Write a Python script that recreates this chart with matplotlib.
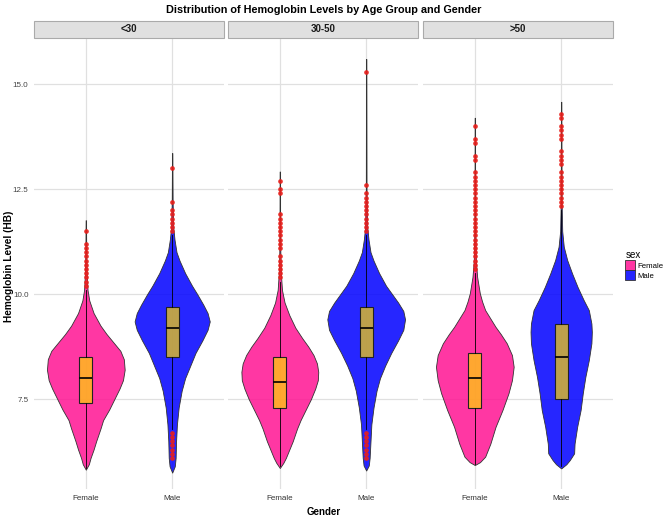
import matplotlib.pyplot as plt
from matplotlib.patches import Rectangle, Patch
from matplotlib.colors import to_rgba

plt.rcParams['font.family'] = ['Liberation Sans', 'DejaVu Sans']

age_groups = ['<30', '30-50', '>50']
sexes = ['Female', 'Male']
violin_colors = ['deeppink', 'blue']

# violin outlines: HB level and half width (x units)
f1_y = [5.82, 5.95, 6.1, 6.3, 6.5, 6.8, 7.0, 7.25, 7.5, 7.75, 7.95, 8.2, 8.45, 8.65,
        8.85, 9.05, 9.25, 9.55, 9.85, 10.1, 10.5, 11.0, 11.76]
f1_w = [0, 0.035, 0.055, 0.09, 0.12, 0.17, 0.2, 0.27, 0.33, 0.39, 0.43, 0.45, 0.44, 0.40,
        0.32, 0.24, 0.17, 0.09, 0.04, 0.02, 0.01, 0.005, 0.002]
m1_y = [5.75, 5.9, 6.1, 6.5, 6.9, 7.3, 7.7, 8.0, 8.3, 8.6, 8.9, 9.15, 9.35, 9.55, 9.75,
        10.0, 10.2, 10.5, 10.8, 11.0, 11.3, 11.6, 12.2, 13.36]
m1_w = [0, 0.03, 0.04, 0.045, 0.055, 0.075, 0.11, 0.15, 0.21, 0.27, 0.35, 0.41, 0.435,
        0.41, 0.36, 0.29, 0.23, 0.15, 0.085, 0.05, 0.027, 0.012, 0.005, 0.002]
f2_y = [5.86, 5.98, 6.1, 6.3, 6.5, 6.8, 7.0, 7.25, 7.5, 7.75, 7.95, 8.15, 8.35, 8.55,
        8.75, 8.95, 9.2, 9.5, 9.8, 10.1, 10.5, 11.0, 12.0, 12.92]
f2_w = [0, 0.04, 0.07, 0.11, 0.15, 0.2, 0.24, 0.3, 0.36, 0.41, 0.44, 0.445, 0.43, 0.39,
        0.33, 0.26, 0.18, 0.11, 0.055, 0.025, 0.012, 0.006, 0.003, 0.002]
m2_y = [5.8, 5.92, 6.1, 6.5, 6.9, 7.3, 7.7, 8.0, 8.3, 8.6, 8.9, 9.15, 9.4, 9.6, 9.8,
        10.0, 10.2, 10.5, 10.8, 11.0, 11.3, 11.6, 12.5, 15.6]
m2_w = [0, 0.03, 0.04, 0.05, 0.06, 0.085, 0.12, 0.16, 0.22, 0.29, 0.37, 0.43, 0.45,
        0.43, 0.37, 0.3, 0.23, 0.15, 0.085, 0.05, 0.027, 0.012, 0.004, 0.002]
f3_y = [5.93, 6.0, 6.13, 6.44, 6.84, 7.24, 7.64, 7.95, 8.27, 8.55, 8.83, 9.05, 9.22,
        9.42, 9.62, 9.82, 10.02, 10.41, 10.8, 11.5, 12.5, 14.2]
f3_w = [0, 0.06, 0.12, 0.18, 0.24, 0.32, 0.39, 0.43, 0.45, 0.43, 0.37, 0.3, 0.24,
        0.18, 0.12, 0.085, 0.058, 0.027, 0.012, 0.005, 0.003, 0.002]
m3_y = [5.85, 5.95, 6.05, 6.21, 6.44, 6.84, 7.24, 7.64, 8.03, 8.43, 8.83, 9.1, 9.3,
        9.62, 9.86, 10.17, 10.49, 10.81, 11.13, 11.5, 12.2, 14.58]
m3_w = [0, 0.06, 0.1, 0.15, 0.155, 0.185, 0.225, 0.25, 0.28, 0.32, 0.35, 0.355, 0.35,
        0.32, 0.26, 0.19, 0.127, 0.07, 0.03, 0.012, 0.005, 0.002]

# box stats, order: <30 F, <30 M, 30-50 F, 30-50 M, >50 F, >50 M
q1 = [7.4, 8.5, 7.3, 8.5, 7.3, 7.5]
median = [8.0, 9.2, 7.9, 9.2, 8.0, 8.5]
q3 = [8.5, 9.7, 8.5, 9.7, 8.6, 9.3]
whisker_lo = [5.85, 6.8, 5.9, 6.8, 5.95, 5.9]
whisker_hi = [10.1, 11.4, 10.3, 11.4, 10.5, 12.0]

out_f1 = [11.5, 11.2, 11.1, 11.0, 10.9, 10.8, 10.7, 10.6, 10.5, 10.4, 10.3, 10.2]
out_m1 = [13.0, 12.2, 12.0, 11.9, 11.8, 11.7, 11.6, 11.5,
          6.7, 6.6, 6.5, 6.4, 6.3, 6.2, 6.1]
out_f2 = [12.7, 12.5, 12.4, 11.9, 11.8, 11.7, 11.6, 11.5, 11.4, 11.3, 11.2, 11.1,
          10.9, 10.8, 10.7, 10.6, 10.5, 10.4]
out_m2 = [15.3, 12.6, 12.4, 12.3, 12.2, 12.1, 12.0, 11.9, 11.8, 11.7, 11.6, 11.5,
          6.7, 6.6, 6.5, 6.4, 6.3, 6.2, 6.1]
out_f3 = [14.0, 13.7, 13.6, 13.3, 13.2, 12.9, 12.8, 12.7, 12.6, 12.5, 12.4, 12.3, 12.2,
          12.1, 12.0, 11.9, 11.8, 11.7, 11.6, 11.5, 11.4, 11.3, 11.2, 11.1, 11.0, 10.9,
          10.8, 10.7, 10.6]
out_m3 = [14.3, 14.2, 14.0, 13.9, 13.8, 13.7, 13.4, 13.3, 13.2, 13.1, 12.9, 12.8, 12.7,
          12.6, 12.5, 12.4, 12.3, 12.2, 12.1]

violins = [(f1_y, f1_w), (m1_y, m1_w), (f2_y, f2_w), (m2_y, m2_w), (f3_y, f3_w), (m3_y, m3_w)]
outliers = [out_f1, out_m1, out_f2, out_m2, out_f3, out_m3]

W, H = 669, 518
fig = plt.figure(figsize=(W / 100, H / 100), dpi=100)

panel_left = [34, 228, 423]
panel_w = 190
top, bottom = 38, 489

for p, grp in enumerate(age_groups):
    ax = fig.add_axes([panel_left[p] / W, 1 - bottom / H, panel_w / W, (bottom - top) / H])
    for s in range(2):
        k = p * 2 + s
        ys, ws = violins[k]
        pos = s + 1
        ax.fill_betweenx(ys, [pos - w for w in ws], [pos + w for w in ws],
                         facecolor=to_rgba(violin_colors[s], 0.85),
                         edgecolor='#333333', linewidth=0.6, zorder=2)
        stats = [dict(med=median[k], q1=q1[k], q3=q3[k], whislo=whisker_lo[k],
                      whishi=whisker_hi[k], fliers=outliers[k])]
        ax.bxp(stats, positions=[pos], widths=0.15, patch_artist=True, showcaps=False,
               boxprops=dict(facecolor=to_rgba('gold', 0.7), edgecolor='#222222', linewidth=0.8),
               medianprops=dict(color='black', linewidth=1.2),
               whiskerprops=dict(color='black', linewidth=0.6),
               flierprops=dict(marker='o', markersize=2.4, markerfacecolor='#e8201c',
                               markeredgecolor='#e8201c', alpha=0.85),
               zorder=3)

    ax.set_xlim(0.4, 2.6)
    ax.set_ylim(5.36, 16.1)
    ax.set_xticks([1, 2])
    ax.set_xticklabels(sexes, fontsize=5.8, color='#333333')
    ax.set_yticks([7.5, 10.0, 12.5, 15.0])
    if p == 0:
        ax.set_yticklabels(['7.5', '10.0', '12.5', '15.0'], fontsize=5.8, color='#444444')
    else:
        ax.set_yticklabels([])
    ax.tick_params(length=0, pad=4)
    ax.grid(True, color='#e0e0e0', linewidth=0.9, zorder=0)
    ax.set_axisbelow(True)
    for sp in ax.spines.values():
        sp.set_visible(False)

    # facet strip
    strip_h = 17 / (bottom - top)
    ax.add_patch(Rectangle((0, 1.0), 1, strip_h, transform=ax.transAxes, clip_on=False,
                           facecolor='#e0e0e0', edgecolor='#aaaaaa', linewidth=0.8))
    ax.text(0.5, 1 + strip_h / 2, grp, transform=ax.transAxes, ha='center', va='center',
            fontsize=7, fontweight='bold', color='#1a1a1a')

fig.text(323.5 / W, 1 - 10 / H, 'Distribution of Hemoglobin Levels by Age Group and Gender',
         ha='center', va='center', fontsize=7.8, fontweight='bold')
fig.text(323.5 / W, 1 - 512 / H, 'Gender', ha='center', va='center',
         fontsize=7, fontweight='bold')
fig.text(9 / W, 1 - 266 / H, 'Hemoglobin Level (HB)', ha='center', va='center',
         rotation=90, fontsize=7.3, fontweight='bold')

handles = [Patch(facecolor=to_rgba(c, 0.85), edgecolor='#333333', linewidth=0.6)
           for c in violin_colors]
fig.legend(handles, sexes, title='sex', loc='upper left',
           bbox_to_anchor=(619 / W, 1 - 244 / H), frameon=False, fontsize=5.6,
           title_fontsize=7, handlelength=1.2, handleheight=1.6, handletextpad=0.4,
           labelspacing=0.0, alignment='left', borderpad=0.3)

fig.savefig('out.png', dpi=100)
